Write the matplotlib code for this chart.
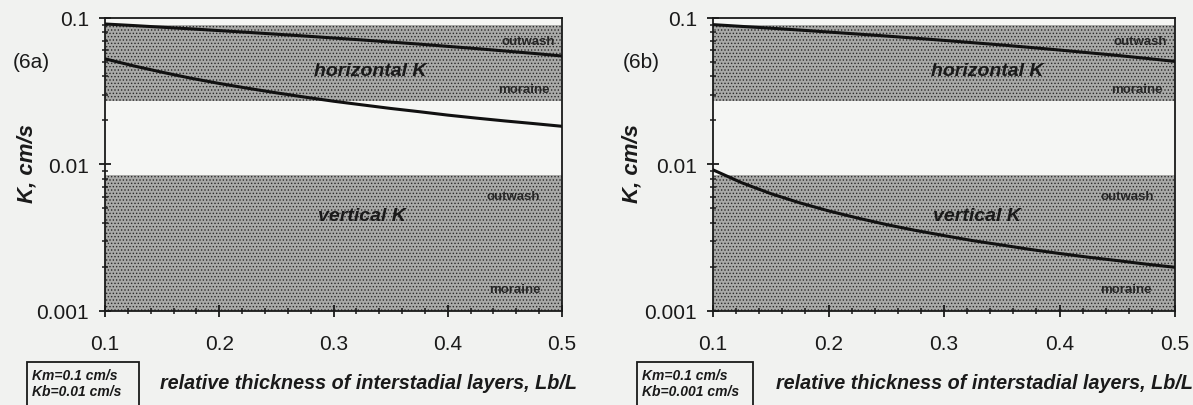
import matplotlib
matplotlib.use("Agg")
import matplotlib.pyplot as plt
from matplotlib.ticker import MultipleLocator, LogLocator, NullFormatter, FixedLocator, FixedFormatter

plt.rcParams['font.family'] = ['Liberation Sans', 'DejaVu Sans']
plt.rcParams['hatch.linewidth'] = 0.6

# ---- data ----
thickness = [0.1, 0.125, 0.15, 0.175, 0.2, 0.225, 0.25, 0.275, 0.3,
             0.325, 0.35, 0.375, 0.4, 0.425, 0.45, 0.475, 0.5]

# panel 6a (Km=0.1, Kb=0.01)
kh_6a = [0.091, 0.0888, 0.0865, 0.0843, 0.082, 0.0798, 0.0775, 0.0753, 0.073,
         0.0708, 0.0685, 0.0663, 0.064, 0.0618, 0.0595, 0.0573, 0.055]
kv_6a = [0.0526, 0.0471, 0.0426, 0.0388, 0.0357, 0.0331, 0.0308, 0.0288, 0.0270,
         0.0255, 0.0241, 0.0229, 0.0217, 0.0207, 0.0198, 0.0190, 0.0182]

# panel 6b (Km=0.1, Kb=0.001)
kh_6b = [0.0901, 0.0876, 0.0852, 0.0827, 0.0802, 0.0777, 0.0753, 0.0728, 0.0703,
         0.0678, 0.0654, 0.0629, 0.0604, 0.0579, 0.0555, 0.0530, 0.0505]
kv_6b = [0.00917, 0.00748, 0.00631, 0.00546, 0.00481, 0.00430, 0.00388, 0.00354, 0.00326,
         0.00301, 0.00281, 0.00262, 0.00246, 0.00232, 0.00220, 0.00208, 0.00198]

# ranges of K for outwash / moraine
horiz_band = (0.027, 0.0895)
vert_band = (0.001, 0.0084)

panel_tags = ["(6a)", "(6b)"]
box_texts = ["Km=0.1 cm/s\nKb=0.01 cm/s", "Km=0.1 cm/s\nKb=0.001 cm/s"]
xticks = [0.1, 0.2, 0.3, 0.4, 0.5]
yticks = [0.001, 0.01, 0.1]
ytick_labels = ["0.001", "0.01", "0.1"]

W, H = 1193, 406
fig = plt.figure(figsize=(W / 100, H / 100), dpi=100)
fig.patch.set_facecolor('#f1f2f0')

def fx(px):
    return px / W

def fy(py):
    return 1 - py / H

panels = [
    dict(x0=105, x1=562, kh=kh_6a, kv=kv_6a, tagx=31, ylabx=27, hkx=370, vkx=362,
         xlabx=368, box=(27, 139), small_off=(7, 12, 22, 21)),
    dict(x0=713, x1=1175, kh=kh_6b, kv=kv_6b, tagx=641, ylabx=632, hkx=987, vkx=977,
         xlabx=985, box=(637, 753), small_off=(8, 12, 21, 23)),
]

top, bot = 19, 311.7
band_face = '#a9aaa8'
hatch_col = '#2a2a2a'

for i, p in enumerate(panels):
    ax = fig.add_axes([fx(p['x0']), fy(bot), fx(p['x1'] - p['x0']), (bot - top) / H])
    ax.set_facecolor('#f5f6f4')
    ax.set_yscale('log')
    ax.set_xlim(0.1, 0.5)
    ax.set_ylim(0.001, 0.1)

    for lo, hi in (horiz_band, vert_band):
        ax.axhspan(lo, hi, facecolor=band_face, edgecolor=hatch_col, hatch='.....',
                   linewidth=0, zorder=1)

    ax.plot(thickness, p['kh'], color='#111111', lw=2.2, zorder=3)
    ax.plot(thickness, p['kv'], color='#111111', lw=2.2, zorder=3)

    for s in ax.spines.values():
        s.set_linewidth(1.3)
        s.set_color('#1a1a1a')

    ax.xaxis.set_major_locator(FixedLocator(xticks))
    ax.xaxis.set_major_formatter(FixedFormatter([f"{v:.1f}" for v in xticks]))
    ax.xaxis.set_minor_locator(MultipleLocator(0.02))
    ax.yaxis.set_major_locator(FixedLocator(yticks))
    ax.yaxis.set_major_formatter(FixedFormatter(ytick_labels))
    ax.yaxis.set_minor_locator(LogLocator(base=10, subs=range(2, 10)))
    ax.yaxis.set_minor_formatter(NullFormatter())
    ax.tick_params(axis='both', which='major', direction='inout', length=9, width=1.3,
                   labelsize=15, colors='#1a1a1a')
    ax.tick_params(axis='both', which='minor', direction='inout', length=5, width=1.1,
                   colors='#1a1a1a')
    ax.tick_params(axis='x', which='major', pad=12)
    ax.tick_params(axis='y', which='major', pad=7)

    bi = dict(fontweight='bold', fontstyle='italic', color='#1a1a1a')
    fig.text(fx(p['hkx']), fy(72), "horizontal K", ha='center', va='center', fontsize=14, **bi)
    fig.text(fx(p['vkx']), fy(217), "vertical K", ha='center', va='center', fontsize=14, **bi)
    small = dict(fontsize=9.5, fontweight='bold', color='#262626', ha='right', va='center')
    o1, o2, o3, o4 = p['small_off']
    fig.text(fx(p['x1'] - o1), fy(42), "outwash", **small)
    fig.text(fx(p['x1'] - o2), fy(90), "moraine", **small)
    fig.text(fx(p['x1'] - o3), fy(197), "outwash", **small)
    fig.text(fx(p['x1'] - o4), fy(290), "moraine", **small)

    fig.text(fx(p['tagx']), fy(62), panel_tags[i], ha='center', va='center', fontsize=15,
             color='#1a1a1a')
    fig.text(fx(p['ylabx']), fy(164), "K, cm/s", ha='center', va='center', rotation=90,
             fontsize=16, **bi)
    fig.text(fx(p['xlabx']), fy(384), "relative thickness of interstadial layers, Lb/L",
             ha='center', va='center', fontsize=14.2, **bi)

    bx0, bx1 = p['box']
    fig.text(fx(bx0 + 5), fy(384), box_texts[i], ha='left', va='center', fontsize=10,
             linespacing=1.25, fontweight='bold', fontstyle='italic', color='#1a1a1a')
    rect = plt.Rectangle((fx(bx0), fy(410)), fx(bx1 - bx0), (410 - 363) / H,
                         transform=fig.transFigure, fill=False, lw=1.3, edgecolor='#1a1a1a')
    fig.add_artist(rect)

fig.savefig("out.png", dpi=100, facecolor=fig.get_facecolor())
